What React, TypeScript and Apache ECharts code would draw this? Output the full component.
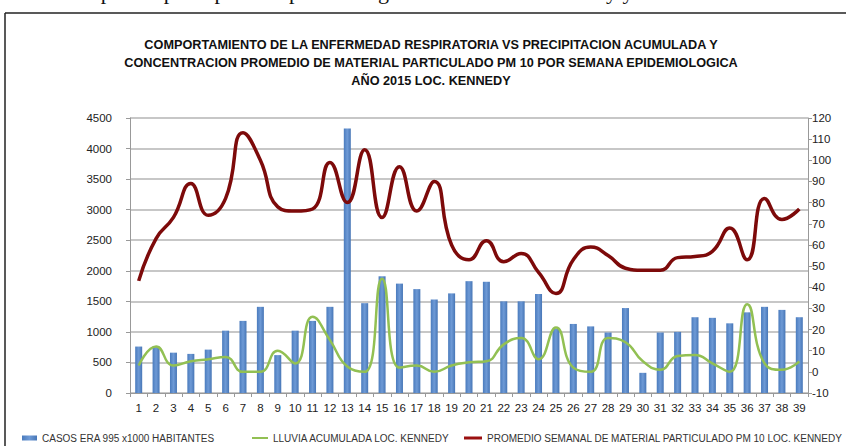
import React, { useEffect, useRef } from "react";
import * as echarts from "echarts";

const weeks: string[] = [
  "1","2","3","4","5","6","7","8","9","10","11","12","13","14","15","16","17","18","19","20",
  "21","22","23","24","25","26","27","28","29","30","31","32","33","34","35","36","37","38","39",
];

const casos: number[] = [
  760, 760, 660, 640, 710, 1020, 1180, 1410, 620, 1020, 1180, 1410, 4330, 1470, 1910, 1790, 1700, 1530, 1630, 1830,
  1820, 1500, 1500, 1620, 1050, 1130, 1090, 990, 1390, 330, 990, 1000, 1240, 1230, 1140, 1320, 1410, 1360, 1240,
];

const lluvia: number[] = [
  3, 12, 3, 5, 6, 7, 0, 0, 10, 4, 26, 15, 2.5, 0, 44, 2, 3, 0, 3, 4.5,
  5, 13, 16, 6, 21, 2, 0, 16, 14, 5, 1, 7.5, 8, 4, 0, 32, 4, 1, 5,
];

const pm10: number[] = [
  43, 63, 73, 89, 74, 82, 113, 100, 78, 76, 77, 99, 80, 105, 73, 97, 76, 90, 60, 53,
  62, 52, 56, 47, 37, 53, 59, 55, 49, 48, 48, 54, 54.5, 57, 68, 53, 82, 72, 77,
];

const titleLines: string[] = [
  "COMPORTAMIENTO DE LA ENFERMEDAD RESPIRATORIA VS PRECIPITACION ACUMULADA Y",
  "CONCENTRACION PROMEDIO DE MATERIAL PARTICULADO PM 10 POR SEMANA EPIDEMIOLOGICA",
  "AÑO 2015 LOC. KENNEDY",
];

const seriesNames: string[] = [
  "CASOS ERA 995 x1000 HABITANTES",
  "LLUVIA ACUMULADA LOC. KENNEDY",
  "PROMEDIO SEMANAL DE MATERIAL PARTICULADO PM 10 LOC. KENNEDY",
];

const topText = "acumulada por corporal para la epidemiología acumulada de Kennedy y Morbilidad";

const FONT = '"Liberation Sans", Arial, sans-serif';

export default function App() {
  const ref = useRef<HTMLDivElement>(null);

  useEffect(() => {
    if (!ref.current) return;
    const chart = echarts.init(ref.current, undefined, { renderer: "svg" });
    const legendText = { fontSize: 10, color: "#333", fontFamily: FONT };
    chart.setOption({
      animation: false,
      backgroundColor: "#ffffff",
      graphic: [
        {
          type: "text",
          x: 0,
          y: -20,
          style: {
            text: topText,
            font: '22px "Liberation Serif", serif',
            fill: "#111",
            align: "left",
            verticalAlign: "top",
          },
        },
        {
          type: "line",
          shape: { x1: 5, y1: 13, x2: 846, y2: 13 },
          style: { stroke: "#222", lineWidth: 1.5 },
        },
        {
          type: "line",
          shape: { x1: 5, y1: 13, x2: 5, y2: 446 },
          style: { stroke: "#222", lineWidth: 1.5 },
        },
        ...titleLines.map((t, i) => ({
          type: "text",
          x: 431,
          y: 45 + i * 18,
          style: {
            text: t,
            font: 'bold 12.7px "Liberation Sans", Arial, sans-serif',
            fill: "#111",
            textAlign: "center",
            textVerticalAlign: "middle",
          },
        })),
      ],
      legend: [
        {
          data: [{ name: seriesNames[0], icon: "rect" }],
          left: 22,
          top: 433,
          padding: 0,
          itemWidth: 15,
          itemHeight: 5,
          textStyle: legendText,
        },
        {
          data: [{ name: seriesNames[1], icon: "rect" }],
          left: 252,
          top: 433,
          padding: 0,
          itemWidth: 16,
          itemHeight: 2,
          textStyle: legendText,
        },
        {
          data: [{ name: seriesNames[2], icon: "rect" }],
          left: 464,
          top: 433,
          padding: 0,
          itemWidth: 18,
          itemHeight: 3,
          textStyle: legendText,
        },
      ],
      grid: { left: 130, right: 38, top: 118, bottom: 53 },
      xAxis: {
        type: "category",
        data: weeks,
        axisLine: { lineStyle: { color: "#999" } },
        axisTick: { show: true, length: 4, lineStyle: { color: "#999" } },
        axisLabel: { interval: 0, fontSize: 11.5, color: "#222", margin: 9, fontFamily: FONT },
      },
      yAxis: [
        {
          type: "value",
          min: 0,
          max: 4500,
          interval: 500,
          axisLine: { show: true, lineStyle: { color: "#999" } },
          axisTick: { show: true, length: 4, lineStyle: { color: "#999" } },
          axisLabel: {
            fontSize: 11.5,
            color: "#222",
            margin: 18,
            fontFamily: FONT,
            formatter: (v: number) => String(v),
          },
          splitLine: { show: true, lineStyle: { color: "#b4b4b4", width: 1.5 } },
        },
        {
          type: "value",
          position: "right",
          min: -10,
          max: 120,
          interval: 10,
          axisLine: { show: true, lineStyle: { color: "#999" } },
          axisTick: { show: true, length: 4, lineStyle: { color: "#999" } },
          axisLabel: {
            fontSize: 11.5,
            color: "#222",
            margin: 4,
            fontFamily: FONT,
            formatter: (v: number) => String(v),
          },
          splitLine: { show: false },
        },
      ],
      series: [
        {
          name: seriesNames[0],
          type: "bar",
          yAxisIndex: 0,
          data: casos,
          barWidth: 7,
          itemStyle: {
            color: new echarts.graphic.LinearGradient(0, 0, 1, 0, [
              { offset: 0, color: "#4a7bbd" },
              { offset: 0.5, color: "#6e9ad6" },
              { offset: 1, color: "#4776b6" },
            ]),
          },
        },
        {
          name: seriesNames[1],
          type: "line",
          yAxisIndex: 1,
          data: lluvia,
          smooth: 0.5,
          showSymbol: false,
          lineStyle: { color: "#92c053", width: 2.5 },
          itemStyle: { color: "#92c053" },
        },
        {
          name: seriesNames[2],
          type: "line",
          yAxisIndex: 1,
          data: pm10,
          smooth: 0.5,
          showSymbol: false,
          lineStyle: { color: "#7d0a0a", width: 3.5 },
          itemStyle: { color: "#9b1010" },
        },
      ],
    });
    return () => chart.dispose();
  }, []);

  return (
    <div
      ref={ref}
      style={{ position: "absolute", left: 0, top: 0, width: 846, height: 446, background: "#fff" }}
    />
  );
}
